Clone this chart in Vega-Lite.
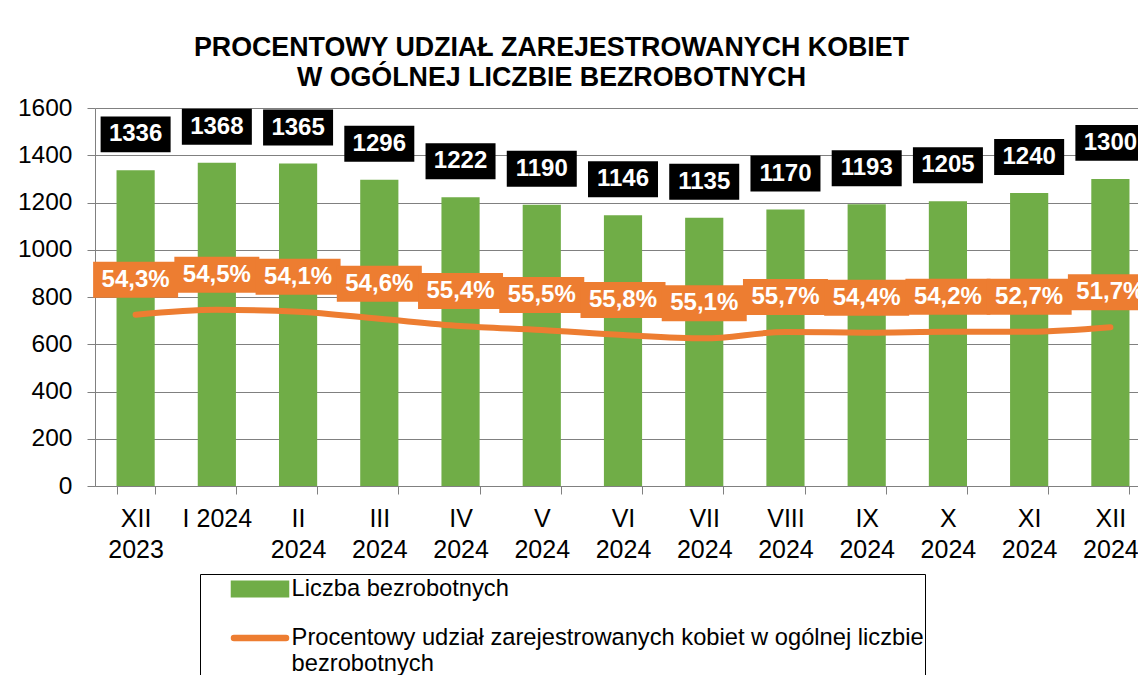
{
  "$schema": "https://vega.github.io/schema/vega-lite/v6.json",
  "autosize": {"type": "none"},
  "width": 1043,
  "height": 378,
  "padding": {"left": 95, "top": 108, "right": 0, "bottom": 189},
  "background": "white",
  "title": {
    "text": ["PROCENTOWY UDZIAŁ ZAREJESTROWANYCH KOBIET", "W OGÓLNEJ LICZBIE BEZROBOTNYCH"],
    "font": "Liberation Sans",
    "fontSize": 26.8,
    "fontWeight": "bold",
    "color": "black",
    "anchor": "middle",
    "frame": "group",
    "dx": -65,
    "offset": -18,
    "baseline": "alphabetic",
    "lineHeight": 30
  },
  "config": {
    "font": "Liberation Sans",
    "view": {"stroke": null}
  },
  "data": {
    "values": [
      {"month": "XII 2023", "count": 1336, "women": 725, "pct": "54,3%"},
      {"month": "I 2024", "count": 1368, "women": 746, "pct": "54,5%"},
      {"month": "II 2024", "count": 1365, "women": 738, "pct": "54,1%"},
      {"month": "III 2024", "count": 1296, "women": 708, "pct": "54,6%"},
      {"month": "IV 2024", "count": 1222, "women": 677, "pct": "55,4%"},
      {"month": "V 2024", "count": 1190, "women": 660, "pct": "55,5%"},
      {"month": "VI 2024", "count": 1146, "women": 639, "pct": "55,8%"},
      {"month": "VII 2024", "count": 1135, "women": 625, "pct": "55,1%"},
      {"month": "VIII 2024", "count": 1170, "women": 652, "pct": "55,7%"},
      {"month": "IX 2024", "count": 1193, "women": 649, "pct": "54,4%"},
      {"month": "X 2024", "count": 1205, "women": 653, "pct": "54,2%"},
      {"month": "XI 2024", "count": 1240, "women": 653, "pct": "52,7%"},
      {"month": "XII 2024", "count": 1300, "women": 672, "pct": "51,7%"}
    ]
  },
  "encoding": {
    "x": {
      "field": "month",
      "type": "nominal",
      "sort": null,
      "scale": {"range": [0, 1056], "paddingInner": 0.53, "paddingOuter": 0.265},
      "axis": {
        "title": null,
        "labelAngle": 0,
        "labelExpr": "!isValid(datum.value) ? '' : datum.value == 'I 2024' ? datum.value : split(datum.value, ' ')",
        "labelFont": "Liberation Sans",
        "labelFontSize": 25,
        "labelColor": "black",
        "labelBaseline": "top",
        "labelPadding": 12,
        "labelLineHeight": 31,
        "tickSize": 8,
        "tickColor": "#808080",
        "domainColor": "#808080",
        "tickBand": "extent",
        "labelLimit": 200
      }
    }
  },
  "layer": [
    {
      "mark": {"type": "bar", "color": "#70ad47"},
      "encoding": {
        "y": {
          "field": "count",
          "type": "quantitative",
          "scale": {"domain": [0, 1600], "nice": false},
          "axis": {
            "title": null,
            "values": [0, 200, 400, 600, 800, 1000, 1200, 1400, 1600],
            "format": "d",
            "labelFont": "Liberation Sans",
            "labelFontSize": 24.5,
            "labelColor": "black",
            "labelPadding": 15,
            "tickSize": 8,
            "tickColor": "#808080",
            "domainColor": "#808080",
            "grid": true,
            "gridColor": "#808080",
            "gridWidth": 1
          }
        },
        "color": {
          "datum": "Liczba bezrobotnych",
          "type": "nominal",
          "scale": {
            "domain": ["Liczba bezrobotnych", "Procentowy udział zarejestrowanych kobiet w ogólnej liczbie bezrobotnych"],
            "range": ["#70ad47", "#ed7d31"]
          },
          "legend": {
            "orient": "none",
            "legendX": 105,
            "legendY": 466,
            "title": null,
            "direction": "vertical",
            "labelFont": "Liberation Sans",
            "labelFontSize": 23.7,
            "labelColor": "black",
            "labelLimit": 900,
            "labelExpr": "datum.label == 'Liczba bezrobotnych' ? datum.label : ['Procentowy udział zarejestrowanych kobiet w ogólnej liczbie', 'bezrobotnych']",
            "labelBaseline": "middle",
            "labelLineHeight": 26,
            "symbolSize": 433,
            "symbolOffset": 45,
            "labelOffset": 17.6,
            "strokeColor": "black",
            "padding": 1,
            "rowPadding": 16,
            "encode": {
              "symbols": {
                "update": {
                  "shape": {"signal": "datum.value == 'Liczba bezrobotnych' ? 'M-2.5,-0.5H2.5V0.5H-2.5Z' : 'M-2.5,0H2.5'"},
                  "fill": {"signal": "datum.value == 'Liczba bezrobotnych' ? '#70ad47' : 'transparent'"},
                  "stroke": {"signal": "datum.value == 'Liczba bezrobotnych' ? 'transparent' : '#ed7d31'"},
                  "strokeWidth": {"value": 6.5},
                  "strokeCap": {"value": "round"},
                  "opacity": {"value": 1}
                }
              }
            }
          }
        }
      }
    },
    {
      "mark": {"type": "line", "interpolate": "monotone", "strokeWidth": 6, "strokeCap": "round"},
      "encoding": {
        "y": {"field": "women", "type": "quantitative"},
        "color": {"datum": "Procentowy udział zarejestrowanych kobiet w ogólnej liczbie bezrobotnych", "type": "nominal"}
      }
    },
    {
      "mark": {"type": "point", "shape": "M-1,-0.514H1V0.514H-1Z", "size": 4900, "filled": true, "color": "black", "opacity": 1, "yOffset": -36},
      "encoding": {
        "y": {"field": "count", "type": "quantitative"}
      }
    },
    {
      "mark": {"type": "text", "color": "white", "fontSize": 24, "fontWeight": "bold", "font": "Liberation Sans", "baseline": "middle", "align": "center", "yOffset": -36},
      "encoding": {
        "y": {"field": "count", "type": "quantitative"},
        "text": {"field": "count", "type": "quantitative", "format": "d"}
      }
    },
    {
      "mark": {"type": "point", "shape": "M-1,-0.4235H1V0.4235H-1Z", "size": 7225, "filled": true, "color": "#ed7d31", "opacity": 1, "yOffset": -35},
      "encoding": {
        "y": {"field": "women", "type": "quantitative"}
      }
    },
    {
      "mark": {"type": "text", "color": "white", "fontSize": 24, "fontWeight": "bold", "font": "Liberation Sans", "baseline": "middle", "align": "center", "yOffset": -35},
      "encoding": {
        "y": {"field": "women", "type": "quantitative"},
        "text": {"field": "pct", "type": "nominal"}
      }
    }
  ]
}
